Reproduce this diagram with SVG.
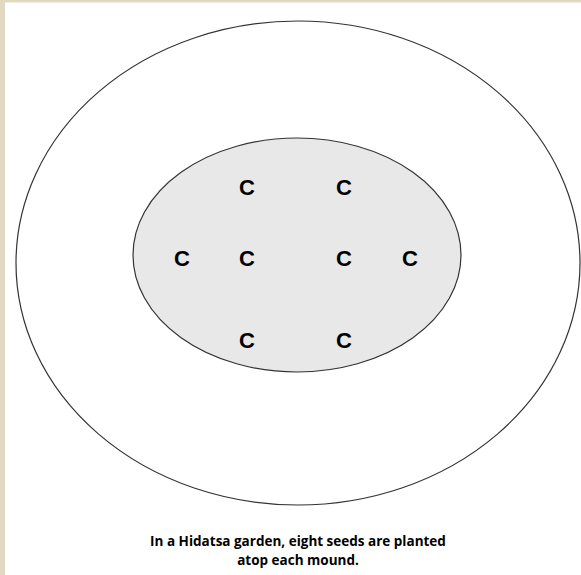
<svg xmlns="http://www.w3.org/2000/svg" width="581" height="575" viewBox="0 0 581 575">
<style>
.c{font-family:"Liberation Sans",Arial,sans-serif;font-weight:bold;font-size:22px;fill:#000;text-anchor:middle}
.cap{font-family:"Open Sans","Liberation Sans",sans-serif;font-weight:bold;font-size:13.5px;fill:#000;text-anchor:middle}
</style>
<rect width="581" height="575" fill="#fff"/>
<rect x="0" y="0" width="581" height="2.5" fill="#e2d9c2"/>
<rect x="0" y="0" width="5" height="575" fill="#e2d9c2"/>
<g id="outer"><ellipse cx="298" cy="263" rx="282" ry="242" fill="none" stroke="#333" stroke-width="1.2"/></g>
<g id="mound"><ellipse cx="297" cy="255" rx="164" ry="117" fill="#e8e8e8" stroke="#333" stroke-width="1.2"/></g>
<g id="seeds">
<text class="c" x="247" y="195">C</text>
<text class="c" x="344" y="195">C</text>
<text class="c" x="182" y="266">C</text>
<text class="c" x="247" y="266">C</text>
<text class="c" x="344" y="266">C</text>
<text class="c" x="410" y="266">C</text>
<text class="c" x="247" y="348">C</text>
<text class="c" x="344" y="348">C</text>
</g>
<g id="caption">
<text class="cap" x="298" y="546">In a Hidatsa garden, eight seeds are planted</text>
<text class="cap" x="298" y="565">atop each mound.</text>
</g>
</svg>
